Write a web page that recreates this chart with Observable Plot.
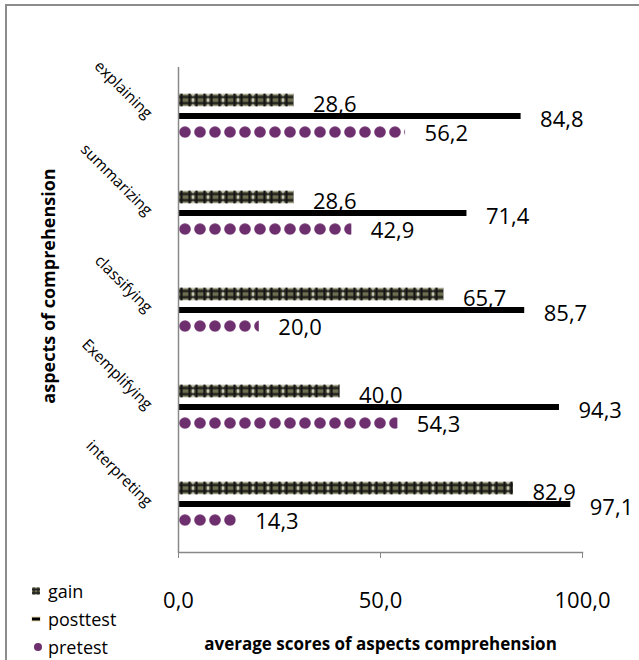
<!DOCTYPE html>
<html><head><meta charset="utf-8">
<script src="https://cdn.jsdelivr.net/npm/d3@7"></script>
<script src="https://cdn.jsdelivr.net/npm/@observablehq/plot@0.6"></script>
<style>
body{margin:0;overflow:hidden;background:#fff;font-family:"Open Sans",sans-serif}
#wrap{position:relative;width:639px;height:660px;overflow:hidden}
#border{position:absolute;left:5px;top:4px;width:700px;height:700px;border:2px solid #8c8c8c}
#chart{position:absolute;left:0;top:0}
#legend{position:absolute;left:31px;top:577px;font-size:18px;line-height:1;color:#000}
.item{display:flex;align-items:center;height:28px;white-space:nowrap}
.item svg{width:12px;height:12px;margin-right:5px;flex:none}
</style></head><body>
<div id="wrap"><div id="border"></div><div id="chart"></div><div id="legend"></div></div>
<script>
const categories = ["explaining", "summarizing", "classifying", "Exemplifying", "interpreting"];
const seriesNames = ["gain", "posttest", "pretest"];
const gain = [28.6, 28.6, 65.7, 40.0, 82.9];
const posttest = [84.8, 71.4, 85.7, 94.3, 97.1];
const pretest = [56.2, 42.9, 20.0, 54.3, 14.3];
const xTicks = [0, 50, 100];
const xTitle = "average scores of aspects comprehension";
const yTitle = "aspects of comprehension";

const olive = "#6e6e50", purple = "#6e2f6e";
const fmt = d3.formatLocale({decimal: ",", thousands: ".", grouping: [3], currency: ["", ""]}).format(".1f");
const rows = (vals, s) => categories.map((c, i) => ({cat: c, series: s, value: vals[i]}));
const gainRows = rows(gain, "gain"), postRows = rows(posttest, "posttest"), preRows = rows(pretest, "pretest");
const font = "Open Sans";

const chart = Plot.plot({
  width: 639, height: 660,
  marginLeft: 178, marginRight: 57, marginTop: 67, marginBottom: 108,
  style: {fontFamily: font, background: "transparent", color: "#000"},
  x: {domain: [0, 100]},
  y: {domain: seriesNames, paddingInner: 0, paddingOuter: 1.5, axis: null},
  fy: {domain: categories, padding: 0},
  marks: [
    Plot.barX(gainRows, {x: "value", y: "series", fy: "cat", fill: "url(#gainPat)", insetTop: 1.6, insetBottom: 1.6}),
    Plot.barX(postRows, {x: "value", y: "series", fy: "cat", fill: "#000", insetTop: 5, insetBottom: 5}),
    Plot.barX(preRows, {x: "value", y: "series", fy: "cat", fill: "url(#prePat)", insetTop: 2.1, insetBottom: 2.1}),
    Plot.ruleX([0], {stroke: "#888", strokeWidth: 1.5}),
    Plot.frame({anchor: "bottom", fy: [categories[categories.length - 1]], stroke: "#888", strokeWidth: 1.5}),
    Plot.text(gainRows, {x: "value", y: "series", fy: "cat", text: d => fmt(d.value), dx: 19, dy: 4, textAnchor: "start", fontSize: 22, fill: "#000"}),
    Plot.text(postRows, {x: "value", y: "series", fy: "cat", text: d => fmt(d.value), dx: 19, dy: 3, textAnchor: "start", fontSize: 22, fill: "#000"}),
    Plot.text(preRows, {x: "value", y: "series", fy: "cat", text: d => fmt(d.value), dx: 19, dy: 1, textAnchor: "start", fontSize: 22, fill: "#000"}),
    Plot.axisX({ticks: xTicks, tickFormat: fmt, tickSize: 6, tickPadding: 34, fontSize: 22, stroke: "#888", fill: "#000",
      label: xTitle, labelAnchor: "center", labelOffset: 97, labelArrow: false}),
    Plot.axisFy({anchor: "left", tickRotate: 45, tickSize: 0, tickPadding: 29, fontSize: 15.5,
      label: yTitle, labelAnchor: "center", labelOffset: 136})
  ]
});
document.getElementById("chart").appendChild(chart);

const svg = d3.select(chart);
const defs = svg.insert("defs", ":first-child");
const gp = defs.append("pattern").attr("id", "gainPat").attr("patternUnits", "userSpaceOnUse").attr("width", 15).attr("height", 13);
gp.append("rect").attr("width", 15).attr("height", 13).attr("fill", "#c8c8b8");
gp.append("rect").attr("x", 1).attr("y", 1).attr("width", 13).attr("height", 11).attr("fill", olive);
gp.append("path").attr("d", "M0,3.5H15M0,9.5H15M3.5,0V13M11.5,0V13").attr("stroke", "#151515").attr("stroke-width", 2.2);
const pp = defs.append("pattern").attr("id", "prePat").attr("patternUnits", "userSpaceOnUse").attr("width", 15).attr("height", 12);
pp.append("circle").attr("cx", 7).attr("cy", 6).attr("r", 5.8).attr("fill", purple);

function alignPattern(id, pat) {
  const el = chart.querySelector(`[fill="url(#${id})"]`);
  if (!el) return;
  const r = el.tagName.toLowerCase() === "rect" ? el : el.querySelector("rect");
  if (!r) return;
  pat.attr("x", r.getAttribute("x")).attr("y", r.getAttribute("y"));
}
alignPattern("gainPat", gp);
alignPattern("prePat", pp);

svg.selectAll("text").each(function() {
  const t = this.textContent;
  if (t.includes(xTitle)) { this.textContent = xTitle; d3.select(this).attr("font-weight", "bold").attr("font-size", 17); }
  if (t.includes(yTitle)) {
    this.textContent = yTitle;
    d3.select(this).attr("font-weight", "bold").attr("font-size", 18).attr("dx", 24);
  }
});

// legend
const legendItems = [
  {name: seriesNames[0], draw: s => { s.append("rect").attr("x", 1).attr("y", 2.5).attr("width", 8).attr("height", 7).attr("fill", olive);
      s.append("path").attr("d", "M1,4.5H9M1,8H9M3,2.5V9.5M7,2.5V9.5").attr("stroke", "#222").attr("stroke-width", 1.3); }},
  {name: seriesNames[1], draw: s => { s.append("rect").attr("x", 0.5).attr("y", 3.5).attr("width", 9).attr("height", 5).attr("fill", "#e8d9b0");
      s.append("rect").attr("x", 1).attr("y", 4.5).attr("width", 8).attr("height", 3).attr("fill", "#000"); }},
  {name: seriesNames[2], draw: s => { s.append("circle").attr("cx", 7).attr("cy", 6).attr("r", 4).attr("fill", purple); }}
];
const leg = d3.select("#legend");
legendItems.forEach(it => {
  const row = leg.append("div").attr("class", "item");
  const s = row.append("svg").attr("viewBox", "0 0 12 12");
  it.draw(s);
  row.append("span").text(it.name);
});
</script>
</body></html>
